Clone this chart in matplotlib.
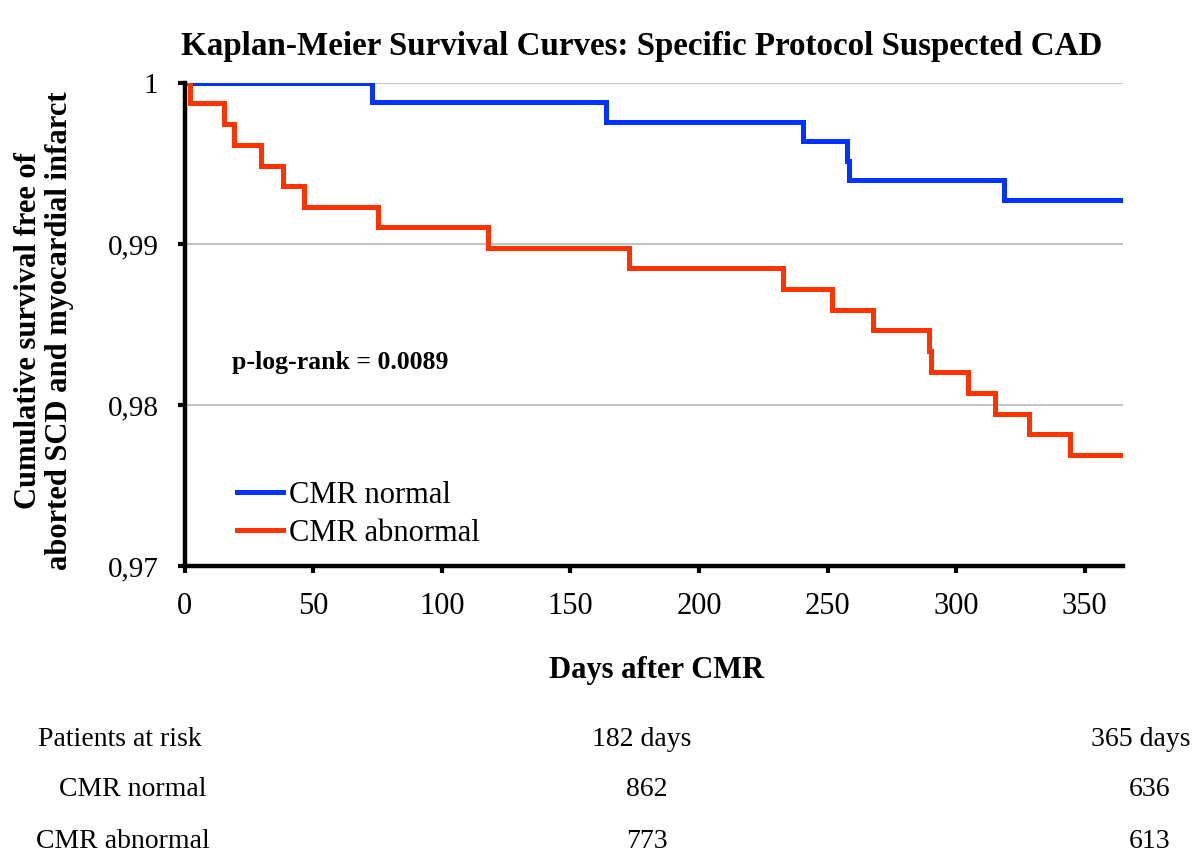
import matplotlib.pyplot as plt

plt.rcParams['font.family'] = ['Liberation Serif', 'DejaVu Serif']

# Kaplan-Meier steps (days, cumulative survival)
normal_days = [0, 73, 164, 240.4, 257.7, 258.5, 318.5, 365]
normal_surv = [1.0, 0.99881, 0.99756, 0.99637, 0.99516, 0.99396, 0.99275, 0.99275]

abnormal_days = [0, 2.2, 15.2, 19, 29.8, 38.2, 46.3, 75.2, 118, 172.6, 232.5,
                 251.7, 267.5, 289.4, 290.4, 304.5, 315.3, 328.2, 344.5, 365]
abnormal_surv = [1.0, 0.99875, 0.99746, 0.99614, 0.99483, 0.99358, 0.99229,
                 0.99104, 0.98973, 0.98848, 0.98719, 0.98589, 0.98463, 0.98333,
                 0.98204, 0.98073, 0.97944, 0.97819, 0.97688, 0.97688]

y_ticks = [0.97, 0.98, 0.99, 1.0]
y_tick_labels = ['0,97', '0,98', '0,99', '1']
x_ticks = [0, 50, 100, 150, 200, 250, 300, 350]

risk_times = ['182 days', '365 days']
risk_normal = [862, 636]
risk_abnormal = [773, 613]

blue = '#0033ff'
red = '#ff3300'

fig = plt.figure(figsize=(12, 8.57), dpi=100)
ax = fig.add_axes([0.154, 0.3396, 0.782, 0.5636])

ax.step(normal_days, normal_surv, where='post', color=blue, lw=3.6,
        label='CMR normal', solid_joinstyle='miter')
ax.step(abnormal_days, abnormal_surv, where='post', color=red, lw=3.6,
        label='CMR abnormal', solid_joinstyle='miter')

ax.set_xlim(0, 365)
ax.set_ylim(0.97, 1.0)
ax.set_yticks(y_ticks)
ax.set_yticklabels(y_tick_labels)
ax.set_xticks(x_ticks)
ax.yaxis.grid(True, color='#b8b8b8', lw=1.2)
ax.set_axisbelow(True)

for s in ['top', 'right']:
    ax.spines[s].set_visible(False)
for s in ['left', 'bottom']:
    ax.spines[s].set_linewidth(3.2)
    ax.spines[s].set_zorder(5)

ax.tick_params(axis='y', length=5, width=3, pad=14, labelsize=21)
ax.tick_params(axis='x', length=5, width=3, pad=14, labelsize=22)

ax.text(0.05, 0.422, 'p-log-rank = 0.0089', transform=ax.transAxes,
        fontsize=18.5, fontweight='bold', va='center')

ax.legend(loc='upper left', bbox_to_anchor=(237 / 1200, 1 - 481 / 857),
          bbox_transform=fig.transFigure, frameon=False, fontsize=22,
          handlelength=1.5, handletextpad=0.2, labelspacing=0.3,
          borderpad=0, borderaxespad=0)

fig.text(0.535, 0.946, 'Kaplan-Meier Survival Curves: Specific Protocol Suspected CAD',
         ha='center', va='center', fontsize=23.8, fontweight='bold')
fig.text(0.037, 0.614, 'Cumulative survival free of\naborted SCD and myocardial infarct',
         rotation=90, ha='center', va='center', fontsize=22, fontweight='bold',
         linespacing=1.1, multialignment='center')
fig.text(0.547, 0.218, 'Days after CMR', ha='center', va='center',
         fontsize=22, fontweight='bold')

# patients at risk table
fs_tab = 20
fig.text(38 / 1200, 1 - 740 / 857, 'Patients at risk', ha='left', va='center', fontsize=fs_tab)
fig.text(207 / 1200, 1 - 790 / 857, 'CMR normal', ha='right', va='center', fontsize=fs_tab)
fig.text(210 / 1200, 1 - 842 / 857, 'CMR abnormal', ha='right', va='center', fontsize=fs_tab)
col_x = [642 / 1200, 1141 / 1200]
val_x = [647 / 1200, 1150 / 1200]
for i in range(2):
    fig.text(col_x[i], 1 - 740 / 857, risk_times[i], ha='center', va='center', fontsize=fs_tab)
    fig.text(val_x[i], 1 - 790 / 857, str(risk_normal[i]), ha='center', va='center', fontsize=fs_tab)
    fig.text(val_x[i], 1 - 842 / 857, str(risk_abnormal[i]), ha='center', va='center', fontsize=fs_tab)

fig.savefig('out.png', dpi=100)
